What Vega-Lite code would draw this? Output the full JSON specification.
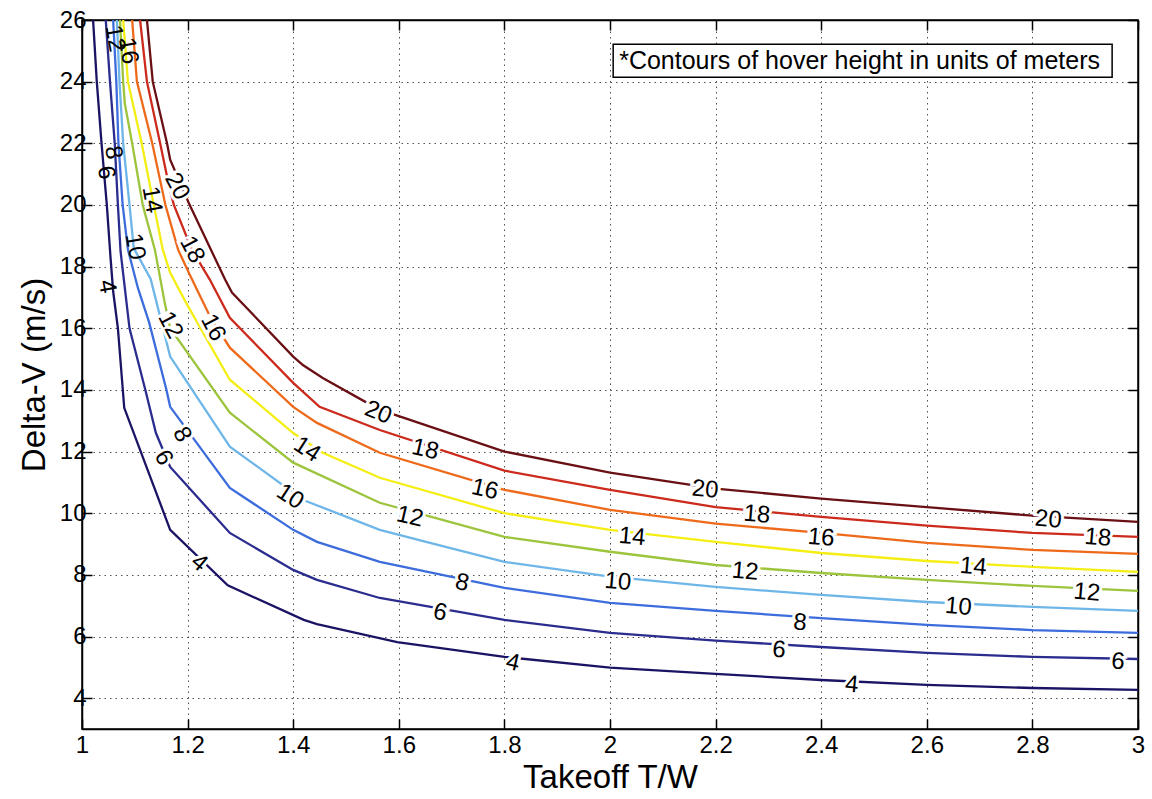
{
  "$schema": "https://vega.github.io/schema/vega-lite/v6.json",
  "width": 1056,
  "height": 709,
  "autosize": {"type": "none"},
  "padding": {"left": 82, "top": 20, "right": 14, "bottom": 70},
  "background": "white",
  "config": {
    "view": {"stroke": "black", "strokeWidth": 1.5},
    "font": "Liberation Sans",
    "axis": {
      "labelFont": "Liberation Sans",
      "labelFontSize": 24,
      "labelColor": "black",
      "titleFont": "Liberation Sans",
      "titleFontSize": 33,
      "titleFontWeight": "normal",
      "titleColor": "black",
      "domainColor": "black",
      "domainWidth": 1.5,
      "tickColor": "black",
      "tickWidth": 1.5,
      "tickSize": -10,
      "gridColor": "#333333",
      "gridDash": [1.5, 4],
      "gridWidth": 1,
      "gridOpacity": 0.85
    }
  },
  "datasets": {
    "curves": [
      {"level": 4, "x": 1.021, "y": 26}, {"level": 4, "x": 1.028, "y": 24}, {"level": 4, "x": 1.037, "y": 22}, {"level": 4, "x": 1.047, "y": 20}, {"level": 4, "x": 1.054, "y": 18.3}, {"level": 4, "x": 1.059, "y": 17.2}, {"level": 4, "x": 1.068, "y": 16}, {"level": 4, "x": 1.08, "y": 13.42}, {"level": 4, "x": 1.167, "y": 9.46}, {"level": 4, "x": 1.276, "y": 7.66}, {"level": 4, "x": 1.42, "y": 6.54}, {"level": 4, "x": 1.445, "y": 6.4}, {"level": 4, "x": 1.597, "y": 5.82}, {"level": 4, "x": 1.8, "y": 5.34}, {"level": 4, "x": 2.0, "y": 4.99}, {"level": 4, "x": 2.2, "y": 4.79}, {"level": 4, "x": 2.4, "y": 4.59}, {"level": 4, "x": 2.6, "y": 4.43}, {"level": 4, "x": 2.8, "y": 4.33}, {"level": 4, "x": 3.0, "y": 4.27},
      {"level": 6, "x": 1.045, "y": 26}, {"level": 6, "x": 1.053, "y": 24}, {"level": 6, "x": 1.062, "y": 22}, {"level": 6, "x": 1.068, "y": 20}, {"level": 6, "x": 1.073, "y": 18.5}, {"level": 6, "x": 1.09, "y": 16}, {"level": 6, "x": 1.12, "y": 14}, {"level": 6, "x": 1.14, "y": 12.6}, {"level": 6, "x": 1.167, "y": 11.5}, {"level": 6, "x": 1.28, "y": 9.36}, {"level": 6, "x": 1.4, "y": 8.16}, {"level": 6, "x": 1.445, "y": 7.84}, {"level": 6, "x": 1.564, "y": 7.25}, {"level": 6, "x": 1.8, "y": 6.54}, {"level": 6, "x": 2.0, "y": 6.12}, {"level": 6, "x": 2.2, "y": 5.87}, {"level": 6, "x": 2.4, "y": 5.66}, {"level": 6, "x": 2.6, "y": 5.47}, {"level": 6, "x": 2.8, "y": 5.34}, {"level": 6, "x": 3.0, "y": 5.27},
      {"level": 8, "x": 1.059, "y": 26}, {"level": 8, "x": 1.065, "y": 24}, {"level": 8, "x": 1.069, "y": 22}, {"level": 8, "x": 1.077, "y": 20}, {"level": 8, "x": 1.087, "y": 18.55}, {"level": 8, "x": 1.106, "y": 17.3}, {"level": 8, "x": 1.127, "y": 16.2}, {"level": 8, "x": 1.16, "y": 14}, {"level": 8, "x": 1.167, "y": 13.45}, {"level": 8, "x": 1.28, "y": 10.82}, {"level": 8, "x": 1.4, "y": 9.46}, {"level": 8, "x": 1.445, "y": 9.07}, {"level": 8, "x": 1.564, "y": 8.42}, {"level": 8, "x": 1.8, "y": 7.58}, {"level": 8, "x": 2.0, "y": 7.09}, {"level": 8, "x": 2.2, "y": 6.83}, {"level": 8, "x": 2.4, "y": 6.6}, {"level": 8, "x": 2.6, "y": 6.38}, {"level": 8, "x": 2.8, "y": 6.21}, {"level": 8, "x": 3.0, "y": 6.12},
      {"level": 10, "x": 1.066, "y": 26}, {"level": 10, "x": 1.071, "y": 24}, {"level": 10, "x": 1.078, "y": 22}, {"level": 10, "x": 1.09, "y": 20}, {"level": 10, "x": 1.098, "y": 18.6}, {"level": 10, "x": 1.13, "y": 17.6}, {"level": 10, "x": 1.167, "y": 15.08}, {"level": 10, "x": 1.28, "y": 12.16}, {"level": 10, "x": 1.419, "y": 10.43}, {"level": 10, "x": 1.564, "y": 9.46}, {"level": 10, "x": 1.659, "y": 9.04}, {"level": 10, "x": 1.8, "y": 8.42}, {"level": 10, "x": 2.0, "y": 7.94}, {"level": 10, "x": 2.2, "y": 7.61}, {"level": 10, "x": 2.4, "y": 7.35}, {"level": 10, "x": 2.6, "y": 7.12}, {"level": 10, "x": 2.8, "y": 6.96}, {"level": 10, "x": 3.0, "y": 6.83},
      {"level": 12, "x": 1.072, "y": 26}, {"level": 12, "x": 1.078, "y": 24}, {"level": 12, "x": 1.081, "y": 23.3}, {"level": 12, "x": 1.095, "y": 22}, {"level": 12, "x": 1.115, "y": 20}, {"level": 12, "x": 1.138, "y": 18.55}, {"level": 12, "x": 1.157, "y": 16.8}, {"level": 12, "x": 1.167, "y": 16.0}, {"level": 12, "x": 1.28, "y": 13.26}, {"level": 12, "x": 1.4, "y": 11.64}, {"level": 12, "x": 1.564, "y": 10.34}, {"level": 12, "x": 1.8, "y": 9.23}, {"level": 12, "x": 2.0, "y": 8.75}, {"level": 12, "x": 2.2, "y": 8.32}, {"level": 12, "x": 2.4, "y": 8.06}, {"level": 12, "x": 2.6, "y": 7.84}, {"level": 12, "x": 2.8, "y": 7.64}, {"level": 12, "x": 3.0, "y": 7.48},
      {"level": 14, "x": 1.078, "y": 26}, {"level": 14, "x": 1.087, "y": 24}, {"level": 14, "x": 1.113, "y": 22}, {"level": 14, "x": 1.136, "y": 20}, {"level": 14, "x": 1.153, "y": 18.55}, {"level": 14, "x": 1.167, "y": 17.8}, {"level": 14, "x": 1.198, "y": 16.8}, {"level": 14, "x": 1.28, "y": 14.33}, {"level": 14, "x": 1.4, "y": 12.6}, {"level": 14, "x": 1.456, "y": 11.96}, {"level": 14, "x": 1.564, "y": 11.15}, {"level": 14, "x": 1.8, "y": 10.0}, {"level": 14, "x": 2.0, "y": 9.46}, {"level": 14, "x": 2.2, "y": 9.07}, {"level": 14, "x": 2.4, "y": 8.71}, {"level": 14, "x": 2.6, "y": 8.45}, {"level": 14, "x": 2.8, "y": 8.26}, {"level": 14, "x": 3.0, "y": 8.1},
      {"level": 16, "x": 1.095, "y": 26}, {"level": 16, "x": 1.104, "y": 24}, {"level": 16, "x": 1.133, "y": 22}, {"level": 16, "x": 1.158, "y": 20}, {"level": 16, "x": 1.182, "y": 18.55}, {"level": 16, "x": 1.205, "y": 17.7}, {"level": 16, "x": 1.242, "y": 16.4}, {"level": 16, "x": 1.28, "y": 15.37}, {"level": 16, "x": 1.4, "y": 13.45}, {"level": 16, "x": 1.445, "y": 12.93}, {"level": 16, "x": 1.564, "y": 11.96}, {"level": 16, "x": 1.8, "y": 10.76}, {"level": 16, "x": 2.0, "y": 10.11}, {"level": 16, "x": 2.2, "y": 9.66}, {"level": 16, "x": 2.4, "y": 9.36}, {"level": 16, "x": 2.6, "y": 9.04}, {"level": 16, "x": 2.8, "y": 8.81}, {"level": 16, "x": 3.0, "y": 8.68},
      {"level": 18, "x": 1.11, "y": 26}, {"level": 18, "x": 1.123, "y": 24}, {"level": 18, "x": 1.148, "y": 22}, {"level": 18, "x": 1.165, "y": 20.6}, {"level": 18, "x": 1.174, "y": 20}, {"level": 18, "x": 1.208, "y": 18.55}, {"level": 18, "x": 1.242, "y": 17.58}, {"level": 18, "x": 1.28, "y": 16.34}, {"level": 18, "x": 1.4, "y": 14.23}, {"level": 18, "x": 1.45, "y": 13.45}, {"level": 18, "x": 1.564, "y": 12.7}, {"level": 18, "x": 1.8, "y": 11.38}, {"level": 18, "x": 2.0, "y": 10.76}, {"level": 18, "x": 2.2, "y": 10.2}, {"level": 18, "x": 2.4, "y": 9.88}, {"level": 18, "x": 2.6, "y": 9.6}, {"level": 18, "x": 2.8, "y": 9.36}, {"level": 18, "x": 3.0, "y": 9.23},
      {"level": 20, "x": 1.123, "y": 26}, {"level": 20, "x": 1.134, "y": 24}, {"level": 20, "x": 1.161, "y": 22}, {"level": 20, "x": 1.167, "y": 21.47}, {"level": 20, "x": 1.202, "y": 20.07}, {"level": 20, "x": 1.271, "y": 17.58}, {"level": 20, "x": 1.284, "y": 17.16}, {"level": 20, "x": 1.4, "y": 15.08}, {"level": 20, "x": 1.419, "y": 14.8}, {"level": 20, "x": 1.456, "y": 14.39}, {"level": 20, "x": 1.54, "y": 13.58}, {"level": 20, "x": 1.593, "y": 13.19}, {"level": 20, "x": 1.8, "y": 12.0}, {"level": 20, "x": 2.0, "y": 11.32}, {"level": 20, "x": 2.2, "y": 10.8}, {"level": 20, "x": 2.4, "y": 10.47}, {"level": 20, "x": 2.6, "y": 10.2}, {"level": 20, "x": 2.8, "y": 9.92}, {"level": 20, "x": 3.0, "y": 9.72}
    ],
    "labels": [
      {"t": "12", "x": 1.062, "y": 25.4}, {"t": "16", "x": 1.087, "y": 25.0}, {"t": "8", "x": 1.059, "y": 21.7}, {"t": "6", "x": 1.045, "y": 21.05}, {"t": "4", "x": 1.047, "y": 17.35}, {"t": "10", "x": 1.1, "y": 18.65}, {"t": "14", "x": 1.132, "y": 20.17},
      {"t": "20", "x": 1.18, "y": 20.6}, {"t": "18", "x": 1.208, "y": 18.55}, {"t": "16", "x": 1.248, "y": 16.02}, {"t": "12", "x": 1.167, "y": 16.1}, {"t": "8", "x": 1.189, "y": 12.55}, {"t": "6", "x": 1.154, "y": 11.8},
      {"t": "4", "x": 1.222, "y": 8.39},
      {"t": "14", "x": 1.426, "y": 12.06}, {"t": "10", "x": 1.394, "y": 10.53}, {"t": "20", "x": 1.561, "y": 13.26}, {"t": "18", "x": 1.65, "y": 12.06}, {"t": "16", "x": 1.763, "y": 10.76}, {"t": "12", "x": 1.621, "y": 9.88}, {"t": "8", "x": 1.72, "y": 7.74}, {"t": "6", "x": 1.678, "y": 6.77}, {"t": "4", "x": 1.816, "y": 5.14},
      {"t": "14", "x": 2.042, "y": 9.23}, {"t": "20", "x": 2.18, "y": 10.76}, {"t": "10", "x": 2.015, "y": 7.77}, {"t": "18", "x": 2.278, "y": 9.95}, {"t": "16", "x": 2.4, "y": 9.2}, {"t": "8", "x": 2.36, "y": 6.44}, {"t": "6", "x": 2.32, "y": 5.56}, {"t": "4", "x": 2.458, "y": 4.43}, {"t": "12", "x": 2.256, "y": 8.1}, {"t": "14", "x": 2.688, "y": 8.26}, {"t": "10", "x": 2.66, "y": 6.96}, {"t": "20", "x": 2.83, "y": 9.79}, {"t": "18", "x": 2.924, "y": 9.2}, {"t": "12", "x": 2.903, "y": 7.42}, {"t": "6", "x": 2.962, "y": 5.18}
    ],
    "note": [
      {"x1": 2.006, "x2": 2.951, "y1": 24.14, "y2": 25.21, "ym": 24.67, "label": "*Contours of hover height in units of meters"}
    ]
  },
  "layer": [
    {
      "data": {"name": "curves"},
      "mark": {"type": "line", "strokeWidth": 2.3, "clip": true},
      "encoding": {
        "x": {"field": "x", "type": "quantitative", "scale": {"domain": [1, 3], "nice": false, "zero": false},
          "axis": {"orient": "bottom", "values": [1, 1.2, 1.4, 1.6, 1.8, 2, 2.2, 2.4, 2.6, 2.8, 3], "format": "~g", "title": "Takeoff T/W", "labelPadding": 14, "titlePadding": 4, "grid": true, "labelFlush": false}},
        "y": {"field": "y", "type": "quantitative", "scale": {"domain": [3, 26], "nice": false, "zero": false},
          "axis": {"orient": "left", "values": [4, 6, 8, 10, 12, 14, 16, 18, 20, 22, 24, 26], "title": "Delta-V (m/s)", "labelPadding": 6, "titlePadding": 8, "grid": true, "labelFlush": false}},
        "color": {"field": "level", "type": "ordinal",
          "scale": {"domain": [4, 6, 8, 10, 12, 14, 16, 18, 20], "range": ["#1b1464", "#2a2c8e", "#3d6ddc", "#6fb6e8", "#9cc43c", "#f4ee14", "#ee6a1a", "#cc2a1c", "#6a1014"]},
          "legend": null}
      }
    },
    {
      "data": {"name": "curves"},
      "mark": {"type": "point", "opacity": 0},
      "encoding": {
        "x": {"field": "x", "type": "quantitative", "axis": {"orient": "top", "values": [1, 1.2, 1.4, 1.6, 1.8, 2, 2.2, 2.4, 2.6, 2.8, 3], "labels": false, "grid": false, "title": null}},
        "y": {"field": "y", "type": "quantitative", "axis": {"orient": "right", "values": [4, 6, 8, 10, 12, 14, 16, 18, 20, 22, 24, 26], "labels": false, "grid": false, "title": null}}
      }
    },
    {
      "data": {"name": "labels"},
      "transform": [{"filter": "!(datum.x < 1.14 && datum.y > 17)"}],
      "mark": {"type": "text", "fontSize": 24, "font": "Liberation Sans", "fill": "white", "stroke": "white", "strokeWidth": 6, "align": "center", "baseline": "middle"},
      "encoding": {
        "x": {"field": "x", "type": "quantitative", "axis": null},
        "y": {"field": "y", "type": "quantitative", "axis": null},
        "text": {"field": "t"},
        "angle": {"condition": [
          {"test": "datum.x < 1.3 && datum.y > 11", "value": 62},
          {"test": "datum.x < 1.3", "value": 40},
          {"test": "datum.x < 1.5", "value": 33},
          {"test": "datum.x < 1.6", "value": 22},
          {"test": "datum.x < 1.9", "value": 13}
        ], "value": 5}
      }
    },
    {
      "data": {"name": "labels"},
      "mark": {"type": "text", "fontSize": 24, "font": "Liberation Sans", "fill": "black", "align": "center", "baseline": "middle"},
      "encoding": {
        "x": {"field": "x", "type": "quantitative", "axis": null},
        "y": {"field": "y", "type": "quantitative", "axis": null},
        "text": {"field": "t"},
        "angle": {"condition": [
          {"test": "datum.x < 1.14 && datum.y > 17", "value": 80},
          {"test": "datum.x < 1.3 && datum.y > 11", "value": 62},
          {"test": "datum.x < 1.3", "value": 40},
          {"test": "datum.x < 1.5", "value": 33},
          {"test": "datum.x < 1.6", "value": 22},
          {"test": "datum.x < 1.9", "value": 13}
        ], "value": 5}
      }
    },
    {
      "data": {"name": "note"},
      "mark": {"type": "rect", "fill": "white", "stroke": "black", "strokeWidth": 1.5},
      "encoding": {
        "x": {"field": "x1", "type": "quantitative", "axis": null},
        "x2": {"field": "x2"},
        "y": {"field": "y1", "type": "quantitative", "axis": null},
        "y2": {"field": "y2"}
      }
    },
    {
      "data": {"name": "note"},
      "mark": {"type": "text", "fontSize": 25, "font": "Liberation Sans", "fill": "black", "align": "left", "baseline": "middle", "dx": 6},
      "encoding": {
        "x": {"field": "x1", "type": "quantitative", "axis": null},
        "y": {"field": "ym", "type": "quantitative", "axis": null},
        "text": {"field": "label"}
      }
    }
  ],
  "resolve": {"axis": {"x": "independent", "y": "independent"}}
}
